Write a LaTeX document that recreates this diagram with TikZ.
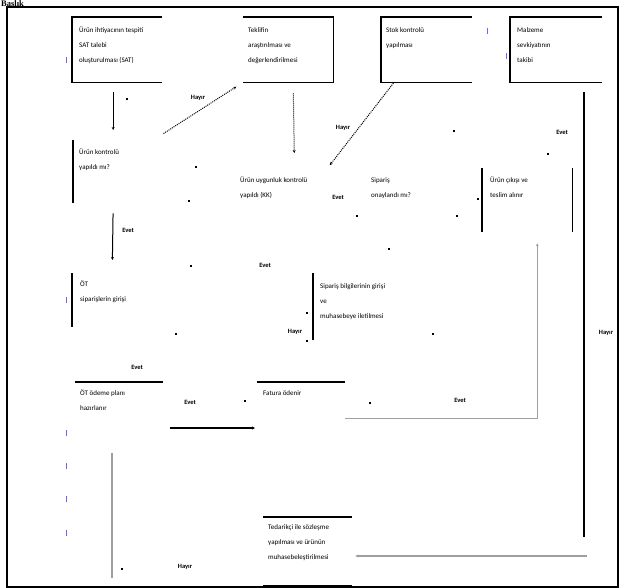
\documentclass[tikz,border=0pt]{standalone}
\usepackage{fontspec}
\setmainfont{Carlito}
\newfontfamily\titlefont{Liberation Serif}
\usetikzlibrary{positioning,arrows.meta}
\tikzset{ box/.style = { rectangle % frame of a step
        , inner sep = 0pt
        , anchor = north west
        }
        , txt/.style = { align = left % text of a step
        , inner sep = 0pt
        , font = \fontsize{7}{15}\selectfont
        }
        , lbl/.style = { inner sep = 0pt % yes / no
        , font = \fontsize{6.5}{7}\selectfont\bfseries
        }
        , rim/.style = { line width = 1.6pt }
        , go/.style = { line width = 1pt
        , -{Stealth[length=3pt,width=3pt]}
        }
        , nope/.style = { densely dotted
        , line width = 1pt
        , -{Stealth[length=3pt,width=3pt]}
        }
        , gri/.style = { gray!75
        , line width = 1.1pt
        }
}
\def\speck(#1,#2){% stray mark
\fill (#1,#2) rectangle ++(2,1.5);
}
\def\para(#1,#2){% paragraph mark
\fill[blue!60] (#1,#2) rectangle ++(1.2,6);
}

\begin{document}
\begin{tikzpicture}[x=1pt, y=-1pt]
\useasboundingbox (0,0) rectangle (621,587);
\draw[line width=2.4pt] (7,7) rectangle (618,587);
\node[anchor=base west, inner sep=0pt, font=\titlefont\bfseries\fontsize{8.5}{8.5}\selectfont] (baslik) at (1,6.3) {Başlık};

% top row
\node[box, minimum width=90pt, minimum height=65pt] (ihtiyac) at (72,17) {};
\node[box, minimum width=90pt, minimum height=65pt] (teklif) at (243,17) {};
\node[box, minimum width=91pt, minimum height=65pt] (stok) at (381,17) {};
\node[box, minimum width=92pt, minimum height=65pt] (sevk) at (510,17) {};
\draw[rim] (ihtiyac.north east) -- (ihtiyac.north west) -- (ihtiyac.south west) -- (ihtiyac.south east);
\draw[rim] (teklif.north west) -- (teklif.north east) -- (teklif.south east) -- (teklif.south west);
\draw[rim] (stok.north east) -- (stok.north west) -- (stok.south west) -- (stok.south east);
\draw[rim] (sevk.north east) -- (sevk.north west) -- (sevk.south west) -- (sevk.south east);
\node[txt, below right=10pt and 7pt of ihtiyac.north west] (ihtiyacT) {Ürün ihtiyacının tespiti\\SAT talebi\\oluşturulması (SAT)};
\node[txt, below right=10pt and 5pt of teklif.north west] (teklifT) {Teklifin\\araştırılması ve\\değerlendirilmesi};
\node[txt, below right=10pt and 5pt of stok.north west] (stokT) {Stok kontrolü\\yapılması};
\node[txt, below right=10pt and 7pt of sevk.north west] (sevkT) {Malzeme\\sevkiyatının\\takibi};

% middle
\node[box, minimum width=80pt, minimum height=63pt] (kontrol) at (73,140) {};
\draw[rim] (kontrol.north west) -- (kontrol.south west);
\node[txt, below right=9pt and 6pt of kontrol.north west] (kontrolT) {Ürün kontrolü\\yapıldı mı?};
\node[txt, anchor=north west] (uygun) at (240,177) {Ürün uygunluk kontrolü\\yapıldı (KK)};
\node[txt, anchor=north west] (onay) at (371,177) {Sipariş\\onaylandı mı?};
\node[box, minimum width=90pt, minimum height=64pt] (teslim) at (482,168) {};
\draw[rim] (teslim.north west) -- (teslim.south west);
\draw[rim] (teslim.north east) -- (teslim.south east);
\node[txt, below right=9pt and 8pt of teslim.north west] (teslimT) {Ürün çıkışı ve\\teslim alınır};
\node[box, minimum width=80pt, minimum height=54pt] (ot) at (72,273) {};
\draw[rim] (ot.north west) -- (ot.south west);
\node[txt, below right=8pt and 8pt of ot.north west] (otT) {ÖT\\siparişlerin girişi};
\node[box, minimum width=85pt, minimum height=67pt] (bilgi) at (313,273) {};
\draw[rim] (bilgi.north west) -- (bilgi.south west);
\node[txt, below right=10pt and 7pt of bilgi.north west] (bilgiT) {Sipariş bilgilerinin girişi\\ve\\muhasebeye iletilmesi};

% lower rows
\node[box, minimum width=88pt, minimum height=52pt] (odeme) at (75,382) {};
\draw[rim] (odeme.north west) -- (odeme.north east);
\node[txt, below right=8pt and 5pt of odeme.north west] (odemeT) {ÖT ödeme planı\\hazırlanır};
\node[box, minimum width=88pt, minimum height=36pt] (fatura) at (257,382) {};
\draw[rim] (fatura.north west) -- (fatura.north east);
\node[txt, below right=8pt and 6pt of fatura.north west] (faturaT) {Fatura ödenir};
\node[box, minimum width=89pt, minimum height=68pt] (sozlesme) at (263,517) {};
\draw[rim] (sozlesme.north west) -- (sozlesme.north east);
\draw[rim] (sozlesme.south west) -- (sozlesme.south east);
\node[txt, below right=7pt and 5pt of sozlesme.north west] (sozlesmeT) {Tedarikçi ile sözleşme\\yapılması ve ürünün\\muhasebeleştirilmesi};

\coordinate (sag) at (584,537);
\coordinate (donus) at (587,556);
\coordinate (alt) at (112,578);

% connectors
\draw[go, shorten <=10pt, shorten >=10pt] (ihtiyac.south -| kontrol.north) -- (kontrol.north);
\draw[go, shorten <=10pt, shorten >=13pt] (kontrol.south) -- (ot.north);
\draw[nope, shorten <=12pt, shorten >=8pt] (kontrol.north east) -- (teklif.south west);
\draw[nope, shorten <=11pt, shorten >=24pt] ([xshift=5pt]teklif.south) -- ([xshift=-13pt]uygun.north east);
\draw[nope, shorten <=1pt, shorten >=15pt] ([xshift=13pt]stok.south west) -- ([xshift=13pt]uygun.north east);
\draw[line width=1.6pt] ([yshift=-10pt]sevk.south -| sag) -- (sag);
\draw[gri, -{Stealth[length=3pt,width=3pt]}] (donus) -- ([xshift=3pt]donus -| sozlesme.east);
\draw[gri, -{Stealth[length=3pt,width=3pt]}, shorten >=11pt] (fatura.south east) -| ([xshift=10pt]teslim.south);
\draw[go, line width=1.4pt, shorten <=7pt, shorten >=2pt] ([yshift=-46pt]odeme.north east) -- ([yshift=-46pt]odeme.north east -| fatura.west);
\draw[gri] ([yshift=-19pt]odeme.south -| alt) -- (alt);

% yes / no
\node[lbl] (h1) at (198,98) {Hayır};
\node[lbl] (h2) at (343,128) {Hayır};
\node[lbl] (e1) at (562,132) {Evet};
\node[lbl] (e2) at (128,230) {Evet};
\node[lbl] (e3) at (338,197) {Evet};
\node[lbl] (e4) at (265,265) {Evet};
\node[lbl] (h3) at (295,332) {Hayır};
\node[lbl] (e5) at (137,367) {Evet};
\node[lbl] (e6) at (190,402) {Evet};
\node[lbl] (e7) at (460,400) {Evet};
\node[lbl] (h4) at (606,333) {Hayır};
\node[lbl] (h5) at (185,567) {Hayır};

% stray marks
\foreach \y in {57, 297, 430, 463, 496, 530} \para(66,\y);
\para(487,28); \para(506,53);
\foreach \x/\y in {126/98, 195/166, 188/200, 190/265, 175/333, 244/400, 369/402,
                   453/130, 547/153, 356/215, 456/215, 388/248, 432/333, 121/568,
                   306/312, 306/340, 477/198}
  \speck(\x,\y);
\end{tikzpicture}
\end{document}
